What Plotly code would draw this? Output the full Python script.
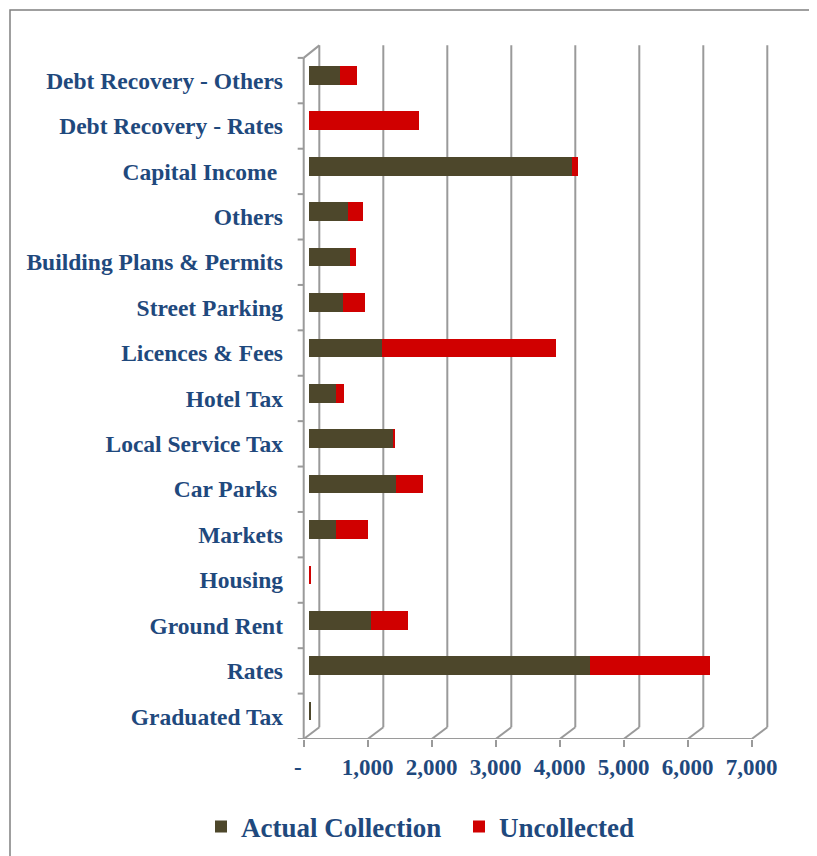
import plotly.graph_objects as go

# revenue heads, bottom to top as they sit on the chart
categories = ["Graduated Tax", "Rates", "Ground Rent", "Housing", "Markets",
              "Car Parks\u00a0", "Local Service Tax", "Hotel Tax", "Licences & Fees",
              "Street Parking", "Building Plans & Permits", "Others",
              "Capital Income\u00a0", "Debt Recovery - Rates", "Debt Recovery - Others"]
actual = [40, 4400, 975, 0, 420, 1360, 1320, 420, 1150, 540, 650, 610, 4110, 0, 480]
uncollected = [0, 1870, 570, 40, 500, 430, 20, 130, 2720, 340, 90, 240, 90, 1720, 270]

tick_vals = [0, 1000, 2000, 3000, 4000, 5000, 6000, 7000]
tick_text = ["-\u2002", "1,000", "2,000", "3,000", "4,000", "5,000", "6,000", "7,000"]

# the page body adds 8px around the figure, so the figure is 8px short each way
PAGE = 8
W, H = 817 - PAGE, 856 - PAGE
L, R, T, B = 282, 41, 34, 117
X_RANGE = [-294, 7300]
Y_RANGE = [-0.5, 14.85]

# fake 3d box: front axis sits a bit left of the bars, back wall up and to the right
FRONT = -80
BACK = 164
BACK_Y0 = -0.242
BACK_Y1 = 14.776
TICK = 94

TEXT = "#1F497D"
GRID = "#9A9A9A"
FONT = "Liberation Serif"

fig = go.Figure()
fig.add_trace(go.Bar(
    y=categories, x=actual, name="Actual Collection", orientation="h",
    marker=dict(color="#4D472B", line=dict(width=0)),
    width=0.41, offset=-0.09,
))
fig.add_trace(go.Bar(
    y=categories, x=uncollected, name="Uncollected", orientation="h",
    marker=dict(color="#D00000", line=dict(width=0)),
    width=0.41, offset=-0.09,
))
# carries the front tick labels
fig.add_trace(go.Scatter(x=[tick_vals[0]], y=[categories[0]], xaxis="x2",
                         mode="markers", marker=dict(opacity=0),
                         showlegend=False, hoverinfo="skip"))

shapes = []
line = dict(color=GRID, width=2)
for t in tick_vals:
    shapes.append(dict(type="line", xref="x", yref="y", x0=t + BACK, x1=t + BACK,
                       y0=BACK_Y0, y1=BACK_Y1, line=line, layer="below"))
    shapes.append(dict(type="line", xref="x", yref="y", x0=t + FRONT, x1=t + BACK,
                       y0=-0.5, y1=BACK_Y0, line=line, layer="below"))
shapes.append(dict(type="line", xref="x", yref="y", x0=FRONT, x1=tick_vals[-1] + FRONT,
                   y0=-0.5, y1=-0.5, line=line, layer="below"))
shapes.append(dict(type="line", xref="x", yref="y", x0=FRONT, x1=FRONT,
                   y0=-0.5, y1=len(categories) - 0.5, line=line, layer="below"))
shapes.append(dict(type="line", xref="x", yref="y", x0=FRONT, x1=BACK,
                   y0=len(categories) - 0.5, y1=BACK_Y1, line=line, layer="below"))
for k in range(len(categories) + 1):
    shapes.append(dict(type="line", xref="x", yref="y", x0=FRONT - TICK, x1=FRONT,
                       y0=k - 0.5, y1=k - 0.5, line=line, layer="below"))

# frame around the whole chart (runs off the right and bottom of the picture)
pw, ph = W - L - R, H - T - B
def px(x):
    return (x - PAGE - L) / pw
def py(y):
    return (H - B - (y - PAGE)) / ph
shapes.append(dict(type="rect", xref="paper", yref="paper", x0=px(7), x1=px(830),
                   y0=py(7), y1=py(870), line=dict(color="#95B3D7", width=2)))
shapes.append(dict(type="rect", xref="paper", yref="paper", x0=px(10), x1=px(827),
                   y0=py(10), y1=py(867), line=dict(color="#808080", width=1.5)))

fig.update_layout(
    width=W, height=H,
    margin=dict(l=L, r=R, t=T, b=B, autoexpand=False),
    paper_bgcolor="white", plot_bgcolor="white",
    barmode="stack", bargap=0,
    font=dict(family=FONT, color=TEXT),
    shapes=shapes,
    xaxis=dict(range=X_RANGE, showgrid=False, zeroline=False, showticklabels=False,
               ticks=""),
    xaxis2=dict(range=[X_RANGE[0] - FRONT, X_RANGE[1] - FRONT], overlaying="x",
                anchor="y", side="bottom", showgrid=False, zeroline=False,
                tickvals=tick_vals, ticktext=tick_text, ticks="outside",
                ticklen=7, tickwidth=2, tickcolor=GRID, ticklabelstandoff=0,
                tickfont=dict(family=FONT, size=23, color=TEXT, weight="bold")),
    yaxis=dict(range=Y_RANGE, type="category", showgrid=False, zeroline=False,
               ticks="", ticklabelstandoff=6,
               tickfont=dict(family=FONT, size=23.5, color=TEXT, weight="bold")),
    legend=dict(orientation="h", traceorder="normal",
                x=px(201), xanchor="left", y=py(827), yanchor="middle",
                font=dict(family=FONT, size=27, color=TEXT, weight="bold"),
                itemwidth=30, entrywidth=213),
)

fig.write_html("out.html")
